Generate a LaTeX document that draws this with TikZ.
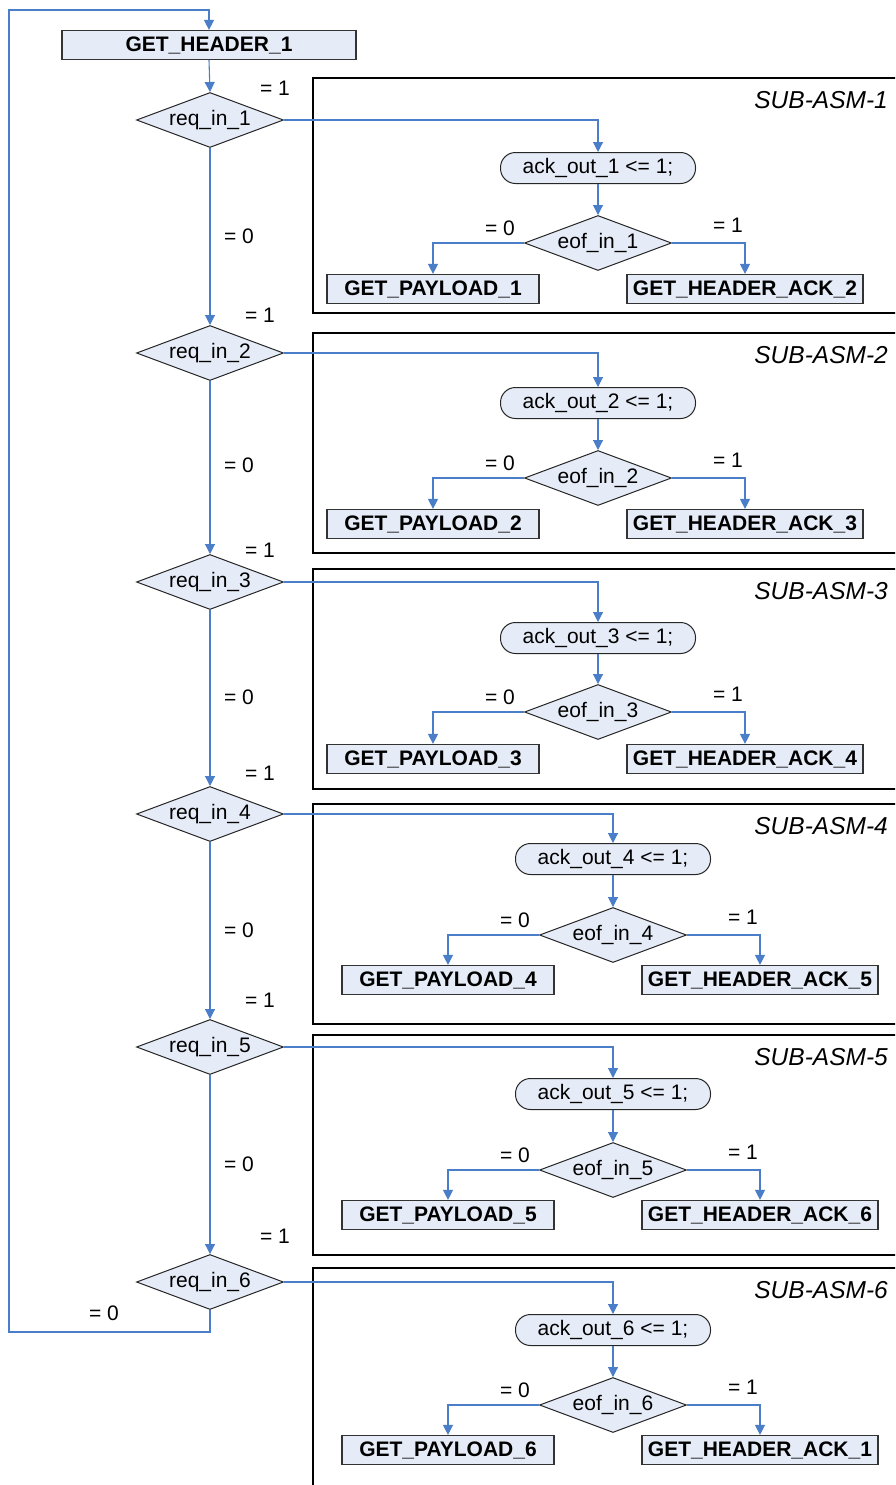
\documentclass[tikz,border=0pt]{standalone}
\usepackage{fontspec}
\setmainfont{Liberation Sans}
\usetikzlibrary{shapes.geometric,arrows.meta}
\definecolor{fillc}{HTML}{E6ECF7}
\definecolor{linec}{HTML}{4A7EC8}
\begin{document}
\begin{tikzpicture}[x=1pt,y=-1pt,
 every node/.style={font=\fontsize{21}{25}\selectfont},
 state/.style={draw=black!80, line width=1.2pt, fill=fillc, minimum height=29pt, inner sep=0pt, font=\fontsize{21}{25}\selectfont\bfseries},
 cond/.style={diamond, draw=black!85, line width=1pt, fill=fillc, minimum width=147pt, minimum height=55pt, inner sep=0pt, aspect=2.67},
 action/.style={draw=black!85, line width=1pt, fill=fillc, rounded corners=15pt, minimum width=195pt, minimum height=31pt, inner sep=0pt},
 conn/.style={draw=linec, line width=1.1pt, -{Triangle[length=10pt,width=10pt]}},
 frame/.style={draw=black, line width=1.4pt},
 lbl/.style={inner sep=0pt},
 title/.style={anchor=east, inner sep=0pt, font=\fontsize{24.5}{29}\selectfont\itshape}]
\clip (0,0) rectangle (895,1485);
\fill[white] (0,0) rectangle (895,1485);
% main column
\node[state, minimum width=294pt] (hdr) at (209,45) {GET\_HEADER\_1};
\foreach \k/\y in {1/120,2/353,3/582,4/814,5/1047,6/1282}
  \node[cond] (r\k) at (210,\y) {req\_in\_\k};
\draw[conn] (hdr.south) -- (r1.north);
\foreach \k/\n in {1/2,2/3,3/4,4/5,5/6}
  \draw[conn] (r\k.south) -- (r\n.north);
\coordinate (lp) at (9,1332);
\coordinate (tp) at (9,10);
\draw[conn] (r6.south) |- (lp) -- (tp) -| (hdr.north);
% main labels
\node[lbl] at (275,88) {= 1};
\node[lbl] at (260,315) {= 1};
\node[lbl] at (260,550) {= 1};
\node[lbl] at (260,773) {= 1};
\node[lbl] at (260,1000) {= 1};
\node[lbl] at (275,1236) {= 1};
\foreach \y in {236,465,697,930,1164}
  \node[lbl] at (239,\y) {= 0};
\node[lbl] at (104,1313) {= 0};
% sub-ASMs
\foreach \k/\cx/\ft/\fb/\ay/\ey/\by/\nx in {1/598/78/313/168/243/289/2, 2/598/333/553/403/478/524/3, 3/598/569/789/638/712/759/4, 4/613/804/1024/859/935/980/5, 5/613/1035/1255/1094/1170/1215/6, 6/613/1268/1500/1330/1405/1450/1} {
  \draw[frame] (313,\ft) rectangle (910,\fb);
  \node[title] (t\k) at (888,\ft+22) {SUB-ASM-\k};
  \node[action] (a\k) at (\cx,\ay) {ack\_out\_\k\ <= 1;};
  \node[cond] (e\k) at (\cx,\ey) {eof\_in\_\k};
  \node[state, minimum width=212pt] (p\k) at (\cx-165,\by) {GET\_PAYLOAD\_\k};
  \node[state, minimum width=236pt] (g\k) at (\cx+147,\by) {GET\_HEADER\_ACK\_\nx};
  \draw[conn] (r\k.east) -| (a\k.north);
  \draw[conn] (a\k.south) -- (e\k.north);
  \draw[conn] (e\k.west) -| (p\k.north);
  \draw[conn] (e\k.east) -| (g\k.north);
  \node[lbl] at (\cx-98,\ey-15) {= 0};
  \node[lbl] at (\cx+130,\ey-18) {= 1};
}
\end{tikzpicture}
\end{document}
